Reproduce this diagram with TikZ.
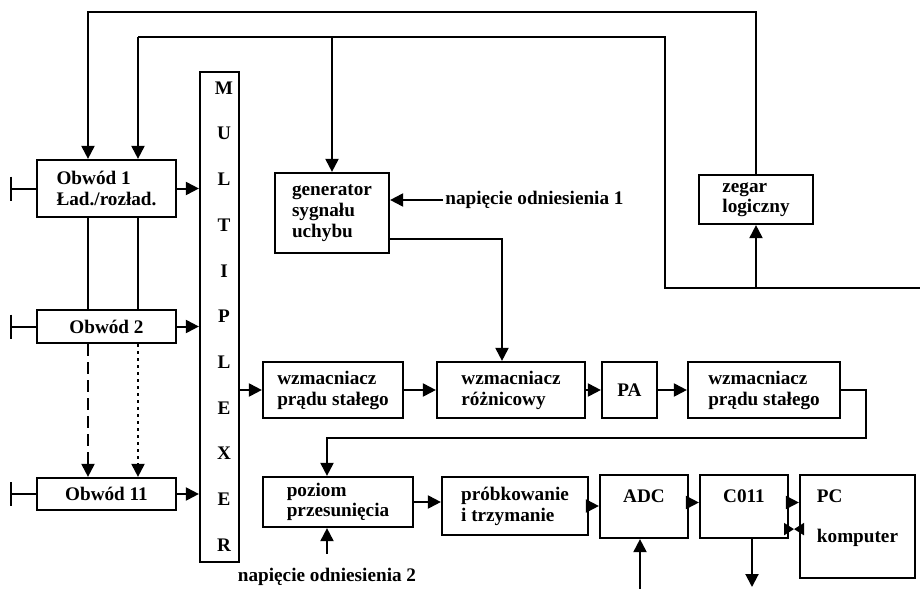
\documentclass[tikz,border=0pt]{standalone}
\usepackage{fontspec}
\setmainfont{Liberation Serif}
\usetikzlibrary{arrows.meta,calc}
\tikzset{
  >={Triangle[length=6.5pt,width=6.5pt]},
  blk/.style 2 args={draw,line width=1.1pt,minimum width=#1*0.5pt,minimum height=#2*0.5pt,
    align=left,inner sep=2pt},
  wire/.style={line width=1pt},
}

\begin{document}
\begin{tikzpicture}[x=0.5pt,y=-0.5pt,font=\fontsize{9.6}{10.5}\selectfont\bfseries]
  \useasboundingbox (0,0) rectangle (920,589);
  % obwody
  \node[blk={139}{57}] (ob1) at (106.5,188.5) {Obwód 1\\Ład./rozład.};
  \node[blk={139}{33}] (ob2) at (106.5,326.5) {Obwód 2};
  \node[blk={139}{32}] (ob11) at (106.5,494) {Obwód 11};
  % multiplexer
  \node[blk={39}{490}] (mux) at (219.5,317) {};
  \foreach \l [count=\i from 0] in {M,U,L,T,I,P,L,E,X,E,R}
    \node (mux\i) at (224,88+\i*45.7) {\l};
  % top blocks
  \node[blk={114}{80}] (gen) at (332,213) {generator\\sygnału\\uchybu};
  \node[blk={114}{49},font=\fontsize{9.6}{8.5}\selectfont\bfseries] (zeg) at (756,199.5) {zegar\\logiczny};
  \node[anchor=west,inner sep=1pt] (ref1) at (443,200) {napięcie odniesienia 1};
  % amplifier row
  \node[blk={140}{56}] (w1) at (333,390) {wzmacniacz\\prądu stałego};
  \node[blk={148}{56}] (wr) at (511,390) {wzmacniacz\\różnicowy};
  \node[blk={55}{56}] (pa) at (629.5,390) {PA};
  \node[blk={152}{56}] (w2) at (764,390) {wzmacniacz\\prądu stałego};
  % acquisition row
  \node[blk={150}{50},font=\fontsize{9.6}{8.5}\selectfont\bfseries] (poz) at (338,502) {poziom\\przesunięcia};
  \node[blk={146}{58}] (prob) at (515,506) {próbkowanie\\i trzymanie};
  \node[blk={88}{63}] (adc) at (644,506.5) {ADC\\\mbox{}};
  \node[blk={88}{63}] (c011) at (744,506.5) {C011\\\mbox{}};
  \node[blk={115}{103}] (pc) at (857.5,526.5) {PC\\[9.5pt]komputer\\\mbox{}};
  \node[inner sep=1pt] (ref2) at (327,577) {napięcie odniesienia 2};
  % control lines
  \coordinate (t1) at (88,12);
  \coordinate (t2) at (138,37);
  \coordinate (c2) at (665,288);
  \coordinate (e2) at (920,288);
  \draw[wire,->] (zeg.north) |- (t1) -- (t1 |- ob1.north);
  \draw[wire] (e2) -- (c2) |- (t2);
  \draw[wire,->] (t2) -- (t2 |- ob1.north);
  \draw[wire,->] (gen.north |- t2) -- (gen.north);
  \draw[wire,->] (zeg.south |- c2) -- (zeg.south);
  \draw[wire] (t1 |- ob1.south) -- (t1 |- ob2.north);
  \draw[wire] (t2 |- ob1.south) -- (t2 |- ob2.north);
  \draw[wire,->,dash pattern=on 6pt off 3pt] (t1 |- ob2.south) -- (t1 |- ob11.north);
  \draw[wire,->,dash pattern=on 1.5pt off 2pt] (t2 |- ob2.south) -- (t2 |- ob11.north);
  % inputs
  \foreach \o in {ob1,ob2,ob11}{
    \draw[wire] (\o.west) -- ++(-25,0) ++(0,-12) -- ++(0,24);
    \draw[wire,->] (\o.east) -- (\o.east -| mux.west);
  }
  % signal path
  \coordinate (gout) at ($(gen.south east)+(0,-15)$);
  \coordinate (win) at ($(wr.north)+(-9,0)$);
  \draw[wire,->] (ref1.west) -- (ref1.west -| gen.east);
  \draw[wire,->] (gout) -| (win);
  \draw[wire,->] (w1.west -| mux.east) -- (w1.west);
  \draw[wire,->] (w1) -- (wr);
  \draw[wire,->] (wr) -- (pa);
  \draw[wire,->] (pa) -- (w2);
  \coordinate (pin) at ($(poz.north)+(-11,0)$);
  \draw[wire,->] (w2.east) -- ++(25,0) |- ($(pin)+(0,-38)$) -- (pin);
  \draw[wire,->] ($(ref2.north)+(0,-12)$) -- (ref2.north |- poz.south);
  \draw[wire,->] (poz.east) -- (poz.east -| prob.west);
  \draw[wire,->] (prob.east) -- (prob.east -| adc.west);
  \coordinate (aout) at ($(adc.east)+(0,-4)$);
  \coordinate (cin) at ($(c011.east)+(0,-4)$);
  \coordinate (pcback) at ($(c011.south east)+(0,-10)$);
  \coordinate (pcmid) at ($(pcback)!0.5!(pcback -| pc.west)$);
  \draw[wire,->] (aout) -- (aout -| c011.west);
  \draw[wire,->] (cin) -- (cin -| pc.west);
  \draw[wire,-{Triangle[length=5pt,width=6pt]}] (pcback) -- (pcmid);
  \draw[wire,-{Triangle[length=5pt,width=6pt]}] (pcback -| pc.west) -- (pcmid);
  \coordinate (adcin) at (640,589);
  \coordinate (cout) at (752,587);
  \draw[wire,->] (adcin) -- (adcin |- adc.south);
  \draw[wire,->] (cout |- c011.south) -- (cout);
\end{tikzpicture}
\end{document}
